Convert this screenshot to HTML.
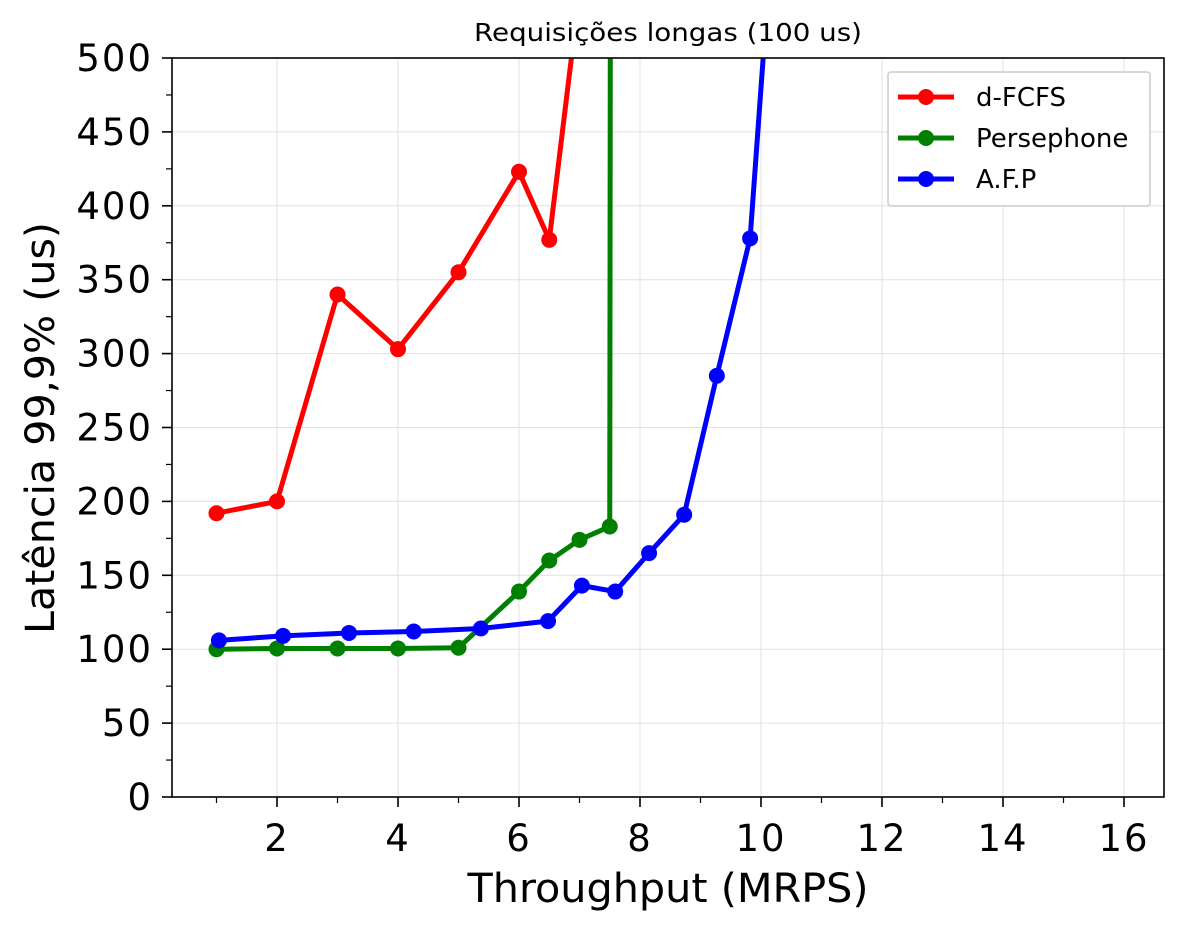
<!DOCTYPE html>
<html><head><meta charset="utf-8"><style>
body{margin:0;background:#fff;}
svg{display:block;font-family:"DejaVu Sans","Liberation Sans",sans-serif;}
</style></head><body>
<svg id="chart" width="1184" height="932" viewBox="0 0 1184 932" xmlns="http://www.w3.org/2000/svg">
<defs><clipPath id="clip"><rect x="172" y="58" width="992" height="739"/></clipPath></defs>
<rect width="1184" height="932" fill="#fff"/>
<g id="grid"></g>
<g id="series" clip-path="url(#clip)"></g>
<rect x="172" y="58" width="992" height="739" fill="none" stroke="#000" stroke-width="1.6"/>
<g id="axes"></g>
<text x="668" y="41" text-anchor="middle" font-size="25" textLength="388" lengthAdjust="spacingAndGlyphs">Requisições longas (100 us)</text>
<text x="668" y="902" text-anchor="middle" font-size="40" textLength="401" lengthAdjust="spacingAndGlyphs">Throughput (MRPS)</text>
<text transform="translate(54,428) rotate(-90)" text-anchor="middle" font-size="40" textLength="412" lengthAdjust="spacingAndGlyphs">Latência 99,9% (us)</text>
<g id="legend">
<rect x="888" y="72" width="262" height="134" fill="#fff" stroke="#ccc" stroke-width="1.5" rx="3"/>
</g>
</svg>
<script>
const fcfsX=[1,2,3,4,5,6,6.5,7];
const fcfsY=[192,200,340,303,355,423,377,545];
const persX=[1,2,3,4,5,6,6.5,7,7.5,7.52];
const persY=[100,100.5,100.5,100.5,101,139,160,174,183,900];
const afpX=[1.04,2.1,3.19,4.26,5.37,6.48,7.04,7.59,8.15,8.73,9.27,9.82,10.4];
const afpY=[106,109,111,112,114,119,143,139,165,191,285,378,706];
const xTicks=[2,4,6,8,10,12,14,16];
const yTicks=[0,50,100,150,200,250,300,350,400,450,500];
const NS="http://www.w3.org/2000/svg";
const xs=v=>156+v*60.5;
const ys=v=>797-v*739/500;
function mk(tag,attrs,parent){const e=document.createElementNS(NS,tag);for(const k in attrs)e.setAttribute(k,attrs[k]);parent.appendChild(e);return e;}
const grid=document.getElementById('grid'),axes=document.getElementById('axes'),ser=document.getElementById('series'),leg=document.getElementById('legend');
xTicks.forEach(t=>{
 const g=mk('line',{x1:xs(t),x2:xs(t),y1:58,y2:797,stroke:'#e0e0e0','stroke-width':1},grid);
 
 
 const tk=mk('line',{x1:xs(t),x2:xs(t),y1:797,y2:807,stroke:'#000','stroke-width':1.6},axes);
 
 
 const l=mk('text',{x:xs(t),y:851,'text-anchor':'middle','font-size':37,'letter-spacing':2},axes);l.textContent=t;
 
 
});
for(let t=1;t<=16;t+=2){const m=mk('line',{x1:xs(t),x2:xs(t),y1:797,y2:803,stroke:'#000','stroke-width':1.2},axes);
 
 }
yTicks.forEach(t=>{
 const g=mk('line',{x1:172,x2:1164,y1:ys(t),y2:ys(t),stroke:'#e0e0e0','stroke-width':1},grid);
 
 
 const tk=mk('line',{x1:162,x2:172,y1:ys(t),y2:ys(t),stroke:'#000','stroke-width':1.6},axes);
 
 
 const l=mk('text',{x:153,y:ys(t)+13,'text-anchor':'end','font-size':37,'letter-spacing':2},axes);l.textContent=t;
 
 
});
for(let t=25;t<500;t+=50){const m=mk('line',{x1:166,x2:172,y1:ys(t),y2:ys(t),stroke:'#000','stroke-width':1.2},axes);
 
 }
function draw(X,Y,color,name){
 const p=mk('polyline',{points:X.map((x,i)=>xs(x)+','+ys(Y[i])).join(' '),fill:'none',stroke:color,'stroke-width':5,'stroke-linejoin':'round'},ser);
 
 
 X.forEach((x,i)=>{const c=mk('circle',{cx:xs(x),cy:ys(Y[i]),r:8,fill:color},ser);
  
  });
}
draw(persX,persY,'#008000','persephone');
draw(fcfsX,fcfsY,'#ff0000','d-fcfs');
draw(afpX,afpY,'#0000ff','afp');
[['d-FCFS','#ff0000'],['Persephone','#008000'],['A.F.P','#0000ff']].forEach((e,i)=>{
 const y=97+i*41;
 const l=mk('line',{x1:898,x2:954,y1:y,y2:y,stroke:e[1],'stroke-width':5},leg);
 
 
 const c=mk('circle',{cx:926,cy:y,r:8,fill:e[1]},leg);
 
 
 const t=mk('text',{x:976,y:y+9,'font-size':26},leg);t.textContent=e[0];
 
 
});
</script>
</body></html>
